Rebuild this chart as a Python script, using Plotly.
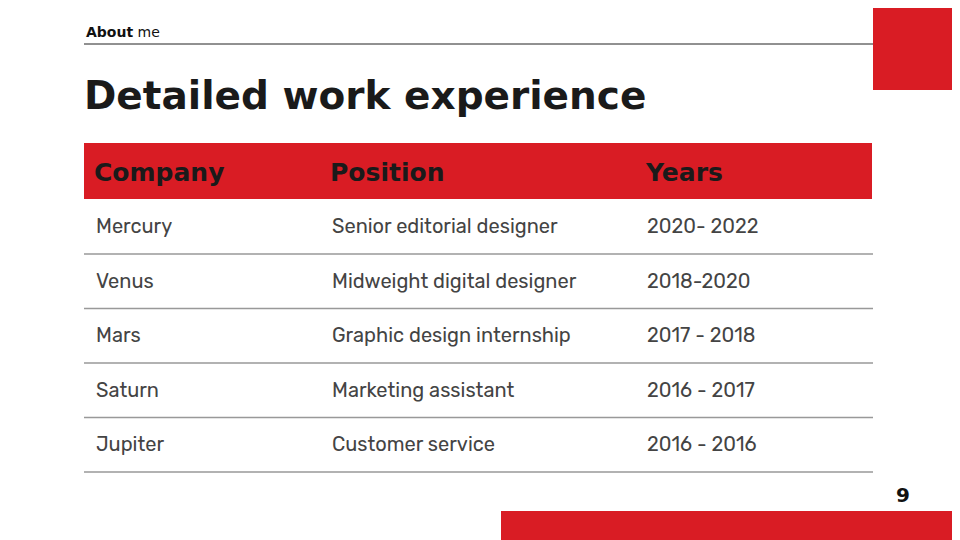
import plotly.graph_objects as go

headers = ["Company", "Position", "Years"]
companies = ["Mercury", "Venus", "Mars", "Saturn", "Jupiter"]
positions = ["Senior editorial designer", "Midweight digital designer",
             "Graphic design internship", "Marketing assistant", "Customer service"]
years = ["2020- 2022", "2018-2020", "2017 - 2018", "2016 - 2017", "2016 - 2016"]

RED = "#d91c24"
col_x = [94, 330, 645]
row_y0, row_h = 226, 54.5

fig = go.Figure()
shapes = [
    dict(type="rect", x0=873, x1=975, y0=-10, y1=90, fillcolor=RED, line_width=0),
    dict(type="rect", x0=501, x1=975, y0=511, y1=555, fillcolor=RED, line_width=0),
    dict(type="line", x0=84, x1=873, y0=44, y1=44, line=dict(color="#222", width=1)),
    dict(type="rect", x0=84, x1=872, y0=143, y1=199, fillcolor=RED, line_width=0),
]
ann = [
    dict(x=84, y=32, text="<b>About</b> me", font=dict(size=14, color="#111", family="DejaVu Sans")),
    dict(x=82, y=95, text="<b>Detailed work experience</b>",
         font=dict(size=39, color="#1a1a1a", family="DejaVu Sans")),
    dict(x=894, y=495, text="<b>9</b>", font=dict(size=20, color="#111", family="DejaVu Sans")),
]
for x, h in zip(col_x, headers):
    ann.append(dict(x=x - 2, y=172, text=f"<b>{h}</b>", font=dict(size=25, color="#1a1a1a", family="DejaVu Sans")))
for i, (c, p, yv) in enumerate(zip(companies, positions, years)):
    y = row_y0 + i * row_h
    for x, t in zip(col_x, (c, p, yv)):
        ann.append(dict(x=x, y=y, text=t, font=dict(size=20, color="#444", family="Rubik, Open Sans")))
    shapes.append(dict(type="line", x0=84, x1=873, y0=y + 28, y1=y + 28,
                       line=dict(color="#999", width=1.5)))
for a in ann:
    a.update(xref="x", yref="y", xanchor="left", yanchor="middle", showarrow=False)

fig.update_layout(width=960, height=540, margin=dict(l=0, r=0, t=0, b=0),
                  plot_bgcolor="white", paper_bgcolor="white",
                  shapes=shapes, annotations=ann,
                  xaxis=dict(range=[8, 968], visible=False, fixedrange=True),
                  yaxis=dict(range=[548, 8], visible=False, fixedrange=True))
fig.write_html("out.html")
